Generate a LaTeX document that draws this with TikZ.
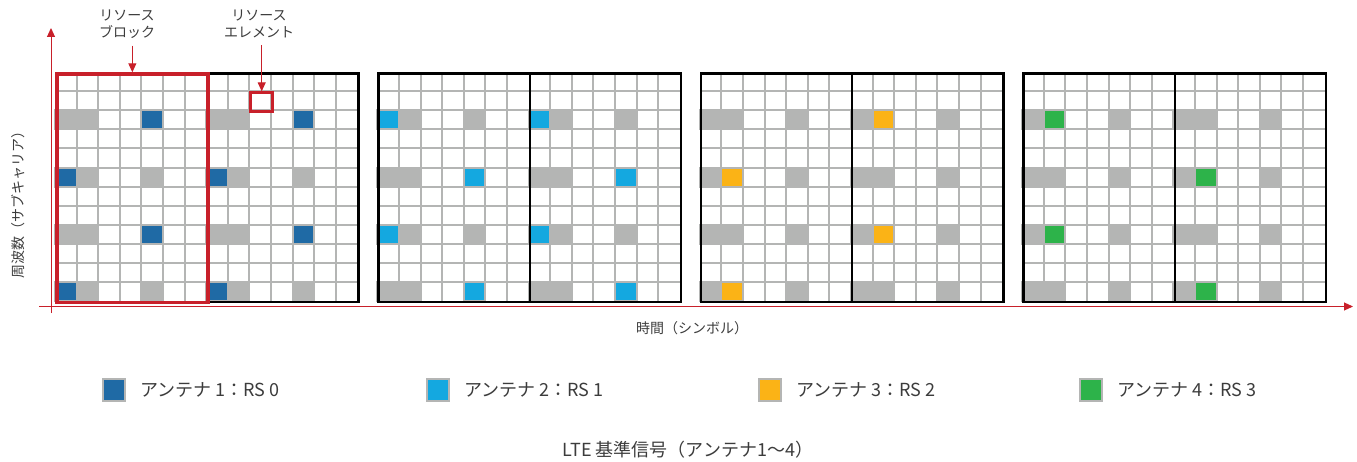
\documentclass[tikz,border=0pt]{standalone}
\usepackage{fontspec}
\newfontfamily\jp{Noto Sans CJK JP}
\usetikzlibrary{arrows.meta,calc}
\definecolor{rsred}{HTML}{C8202A}
\definecolor{gridgray}{HTML}{B4B5B4}
\definecolor{cA}{HTML}{1F6AA5}
\definecolor{cB}{HTML}{14A8E0}
\definecolor{cC}{HTML}{FBB316}
\definecolor{cD}{HTML}{2DB34A}
\definecolor{txt}{HTML}{3C3C3C}
\def\ytop{72.3}
\def\cw{21.6}
\def\ch{19.05}
\def\bw{151.2}
\def\bh{228.6}
\newcommand\rsblock[3]{%
  \fill[white] (#1,\ytop) rectangle ++(\bw,\bh);
  \foreach \i in {1,...,6} \draw[gridline] (#1+\i*\cw,\ytop) -- ++(0,\bh);
  \foreach \j in {1,...,11} \draw[gridline] (#1,\ytop+\j*\ch) -- ++(\bw,0);
  \foreach \r in {2,5,8,11} {
    \fill[gridgray] (#1-1,\ytop+\r*\ch-1) rectangle (#1+2*\cw+1,\ytop+\r*\ch+\ch+1);
    \fill[gridgray] (#1+4*\cw-1,\ytop+\r*\ch-1) rectangle (#1+5*\cw+1,\ytop+\r*\ch+\ch+1);
  }
  \foreach \r/\c in {#3}
    \fill[#2] (#1+\c*\cw+1,\ytop+\r*\ch+1) rectangle (#1+\c*\cw+\cw-1,\ytop+\r*\ch+\ch-1);
}
\tikzset{
  gridline/.style={draw=gridgray, line width=2pt},
  grpbox/.style={draw=black, line width=2.4pt, minimum width=302.4pt, minimum height=228.6pt, inner sep=0pt, anchor=north west},
  divider/.style={draw=black, line width=2pt},
  rbox/.style={draw=rsred, line width=3.5pt, inner sep=0pt, anchor=north west},
  redarr/.style={draw=rsred, line width=1pt, -{Triangle[length=9pt,width=8pt]}},
  lbl/.style={text=txt, font=\jp\fontsize{14pt}{17pt}\selectfont, align=center, inner sep=2pt},
  axlbl/.style={text=txt, font=\jp\fontsize{14pt}{17pt}\selectfont, inner sep=0pt},
  legsq/.style={draw=gridgray, line width=2pt, minimum size=22pt, inner sep=0pt},
  legtxt/.style={text=txt, font=\jp\fontsize{18pt}{21pt}\selectfont, inner sep=0pt},
}
\begin{document}
\begin{tikzpicture}[x=1pt,y=-1pt]
\useasboundingbox (0,0) rectangle (1357,462);
% axes
\coordinate (yo) at (51,313);
\coordinate (yt) at (51,28);
\coordinate (xo) at (39,306.5);
\coordinate (xt) at (1353,306.5);
\draw[redarr] (yo) -- (yt);
\draw[redarr] (xo) -- (xt);
% group 1
\rsblock{55}{cA}{2/4,5/0,8/4,11/0}
\rsblock{206.2}{cA}{2/4,5/0,8/4,11/0}
% group 2
\rsblock{377.4}{cB}{2/0,5/4,8/0,11/4}
\rsblock{528.6}{cB}{2/0,5/4,8/0,11/4}
% group 3
\rsblock{699.8}{cC}{5/1,11/1}
\rsblock{851}{cC}{2/1,8/1}
% group 4
\rsblock{1022.2}{cD}{2/1,8/1}
\rsblock{1173.4}{cD}{5/1,11/1}
% borders
\node[grpbox] (g1) at (55,\ytop) {};
\node[grpbox] (g2) at (377.4,\ytop) {};
\node[grpbox] (g3) at (699.8,\ytop) {};
\node[grpbox] (g4) at (1022.2,\ytop) {};
\foreach \g in {g1,g2,g3,g4} \draw[divider] (\g.north) -- (\g.south);
% resource block / element highlights
\node[rbox, minimum width=151.2pt, minimum height=228.6pt] (rb) at (55,\ytop) {};
\node[rbox, line width=3pt, minimum width=21.6pt, minimum height=19.05pt] (re) at (249.4,91.35) {};
% labels
\node[lbl] (lrb) at (127,24) {リソース\\ブロック};
\node[lbl] (lre) at (259,24) {リソース\\エレメント};
\draw[redarr] ($(lrb.south -| rb.north)+(0,5)$) -- (rb.north);
\draw[redarr] ($(lre.south -| re.north)+(0,5)$) -- (re.north);
\node[axlbl, rotate=90] (ylab) at (18,202) {周波数（サブキャリア）};
\node[axlbl] (xlab) at (692,328) {時間（シンボル）};
% legend
\node[legsq, fill=cA] (s1) at (114,390) {};
\node[legtxt, anchor=west] (t1) at (140,390) {アンテナ 1：RS 0};
\node[legsq, fill=cB] (s2) at (438,390) {};
\node[legtxt, anchor=west] (t2) at (464,390) {アンテナ 2：RS 1};
\node[legsq, fill=cC] (s3) at (770,390) {};
\node[legtxt, anchor=west] (t3) at (796,390) {アンテナ 3：RS 2};
\node[legsq, fill=cD] (s4) at (1091,390) {};
\node[legtxt, anchor=west] (t4) at (1117,390) {アンテナ 4：RS 3};
\node[legtxt] (title) at (688,450) {LTE 基準信号（アンテナ1〜4）};
\end{tikzpicture}
\end{document}
